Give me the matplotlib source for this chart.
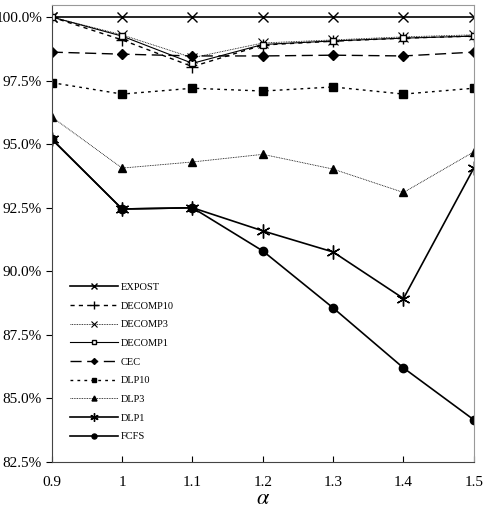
import matplotlib
matplotlib.use("Agg")
import matplotlib.pyplot as plt

plt.rcParams['font.family'] = ['Liberation Serif', 'DejaVu Serif']
plt.rcParams['mathtext.fontset'] = 'stix'

# alpha values
alpha = [0.9, 1.0, 1.1, 1.2, 1.3, 1.4, 1.5]

# percentages
expost = [100.0, 100.0, 100.0, 100.0, 100.0, 100.0, 100.0]
decomp10 = [100.0, 99.10, 98.05, 98.90, 99.05, 99.17, 99.25]
decomp3 = [100.0, 99.30, 98.40, 98.98, 99.10, 99.22, 99.30]
decomp1 = [100.0, 99.25, 98.18, 98.92, 99.06, 99.17, 99.25]
cec = [98.62, 98.54, 98.47, 98.47, 98.50, 98.47, 98.62]
dlp10 = [97.42, 96.97, 97.20, 97.09, 97.25, 96.97, 97.20]
dlp3 = [96.07, 94.06, 94.30, 94.60, 94.02, 93.10, 94.70]
dlp1 = [95.20, 92.45, 92.50, 91.59, 90.76, 88.93, 94.06]
fcfs = [95.20, 92.45, 92.50, 90.80, 88.56, 86.20, 84.16]

fig = plt.figure(figsize=(4.84, 5.09), dpi=100)
ax = fig.add_axes([0.107, 0.0923, 0.872, 0.8977])

k = dict(color='black')
ax.plot(alpha, expost, '-', marker='x', ms=7, mew=1.0, lw=1.2, label='EXPOST', **k)
ax.plot(alpha, decomp10, linestyle=(0, (3, 3)), marker='+', ms=9, mew=1.0, lw=1.0, label='DECOMP10', **k)
ax.plot(alpha, decomp3, linestyle=(0, (1, 1)), marker='x', ms=7, mew=0.8, lw=0.6, label='DECOMP3', **k)
ax.plot(alpha, decomp1, '-', marker='s', ms=5, mfc='white', mew=1.0, lw=0.8, label='DECOMP1', **k)
ax.plot(alpha, cec, linestyle=(0, (8, 4)), marker='D', ms=5, lw=1.0, label='CEC', **k)
ax.plot(alpha, dlp10, linestyle=(0, (2, 3)), marker='s', ms=6, lw=1.0, label='DLP10', **k)
ax.plot(alpha, dlp3, linestyle=(0, (1, 1)), marker='^', ms=6, lw=0.6, label='DLP3', **k)
ax.plot(alpha, dlp1, '-', marker=(6, 2, 0), ms=10, mew=1.0, lw=1.2, label='DLP1', **k)
ax.plot(alpha, fcfs, '-', marker='o', ms=6, lw=1.2, label='FCFS', **k)

ax.set_xlim(0.9, 1.5)
ax.set_ylim(82.5, 100.47)
ax.set_xticks(alpha)
ax.set_xticklabels(['0.9', '1', '1.1', '1.2', '1.3', '1.4', '1.5'])
yt = [82.5, 85.0, 87.5, 90.0, 92.5, 95.0, 97.5, 100.0]
ax.set_yticks(yt)
ax.set_yticklabels(['%.1f%%' % v for v in yt])
ax.tick_params(axis='x', direction='in', length=4, labelsize=11, pad=10)
ax.tick_params(axis='y', direction='out', length=4, labelsize=11, pad=3)

ax.spines['top'].set_color('#999999')
ax.spines['right'].set_color('#999999')
ax.spines['left'].set_color('#444444')
ax.spines['bottom'].set_color('#444444')

ax.set_xlabel(r'$\alpha$', fontsize=16, labelpad=1)

ax.legend(loc='lower left', bbox_to_anchor=(0.02, 0.025), frameon=False,
          fontsize=7.5, handlelength=4.6, labelspacing=0.9, handletextpad=0.3,
          markerscale=0.6)

fig.savefig('out.png', dpi=100)
